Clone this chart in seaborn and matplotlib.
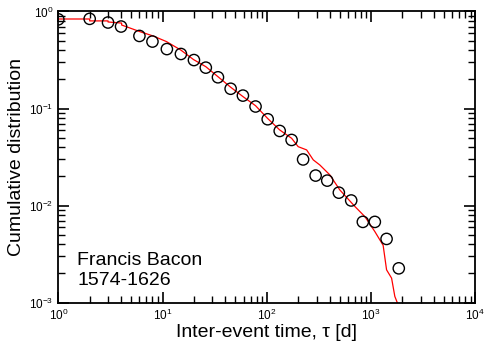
import numpy as np
import pandas as pd
import matplotlib
matplotlib.use("Agg")
import matplotlib.pyplot as plt
import seaborn as sns
from matplotlib.ticker import LogLocator, NullFormatter

# Data: binned empirical points (circles)
tau_pts = [1, 2, 3, 4, 6, 8, 11, 15, 20, 26, 34, 45, 59, 78, 102, 133, 173,
           223, 294, 380, 491, 645, 834, 1087, 1409, 1845]
cdf_pts = [0.83, 0.84, 0.77, 0.70, 0.56, 0.49, 0.41, 0.365, 0.316, 0.264, 0.21,
           0.16, 0.136, 0.105, 0.0776, 0.0588, 0.0475, 0.0299, 0.0204, 0.0181,
           0.0136, 0.0113, 0.0068, 0.0068, 0.00454, 0.00226]

# Data: full cumulative distribution (red line)
tau_line = [1, 2, 2, 3, 3, 4.05, 4.05, 6.07, 8.1, 10.9, 15, 19.8, 26, 34, 45, 59,
            78, 101.5, 133, 173, 200, 241, 279, 323, 403, 433, 502, 700, 873,
            1088, 1306, 1409, 1574, 1691, 1820, 1900]
cdf_line = [0.837, 0.837, 0.80, 0.80, 0.78, 0.76, 0.726, 0.62, 0.56, 0.49, 0.40,
            0.32, 0.27, 0.213, 0.166, 0.133, 0.107, 0.0794, 0.0602, 0.0494,
            0.0405, 0.0375, 0.0296, 0.0262, 0.0207, 0.0184, 0.0145, 0.0098,
            0.0077, 0.0054, 0.0039, 0.00218, 0.00179, 0.00116, 0.00095, 0.0008]

label_name = "Francis Bacon"
label_years = "1574-1626"

sns.set_style("ticks")
plt.rcParams['font.family'] = ['Liberation Sans', 'DejaVu Sans']
plt.rcParams['mathtext.default'] = 'regular'
plt.rcParams['text.color'] = 'black'
plt.rcParams['axes.labelcolor'] = 'black'
plt.rcParams['axes.edgecolor'] = 'black'

fig = plt.figure(figsize=(4.85, 3.57), dpi=100)
ax = fig.add_axes([0.1202, 0.1521, 0.8598, 0.8157])
ax.set_xscale("log")
ax.set_yscale("log")

df_line = pd.DataFrame({"tau": tau_line, "cdf": cdf_line})
df_pts = pd.DataFrame({"tau": tau_pts, "cdf": cdf_pts})

sns.lineplot(data=df_line, x="tau", y="cdf", ax=ax, color="red", linewidth=0.9,
             sort=False, estimator=None)
sns.scatterplot(data=df_pts, x="tau", y="cdf", ax=ax, marker="o", s=66,
                facecolor="none", edgecolor="black", linewidth=1.0, zorder=3)

ax.set_xlim(1, 1e4)
ax.set_ylim(1e-3, 1)

ax.xaxis.set_major_locator(LogLocator(base=10, numticks=10))
ax.xaxis.set_minor_locator(LogLocator(base=10, subs=np.arange(2, 10), numticks=20))
ax.yaxis.set_major_locator(LogLocator(base=10, numticks=10))
ax.yaxis.set_minor_locator(LogLocator(base=10, subs=np.arange(2, 10), numticks=20))
ax.xaxis.set_minor_formatter(NullFormatter())
ax.yaxis.set_minor_formatter(NullFormatter())

ax.tick_params(which="both", direction="in", top=True, right=True,
               bottom=True, left=True, color="black", labelcolor="black")
ax.tick_params(which="major", length=8, width=1.2, labelsize=8.5)
ax.tick_params(which="minor", length=5, width=1.0)
for s in ax.spines.values():
    s.set_linewidth(1.3)

ax.set_xlabel("Inter-event time, τ [d]", fontsize=14, labelpad=1)
ax.set_ylabel("Cumulative distribution", fontsize=14, labelpad=3)

ax.text(0.045, 0.1295, label_name, transform=ax.transAxes,
        fontsize=14, va="baseline", ha="left")
ax.text(0.045, 0.0608, label_years, transform=ax.transAxes,
        fontsize=14, va="baseline", ha="left")

fig.savefig("out.png", dpi=100)
